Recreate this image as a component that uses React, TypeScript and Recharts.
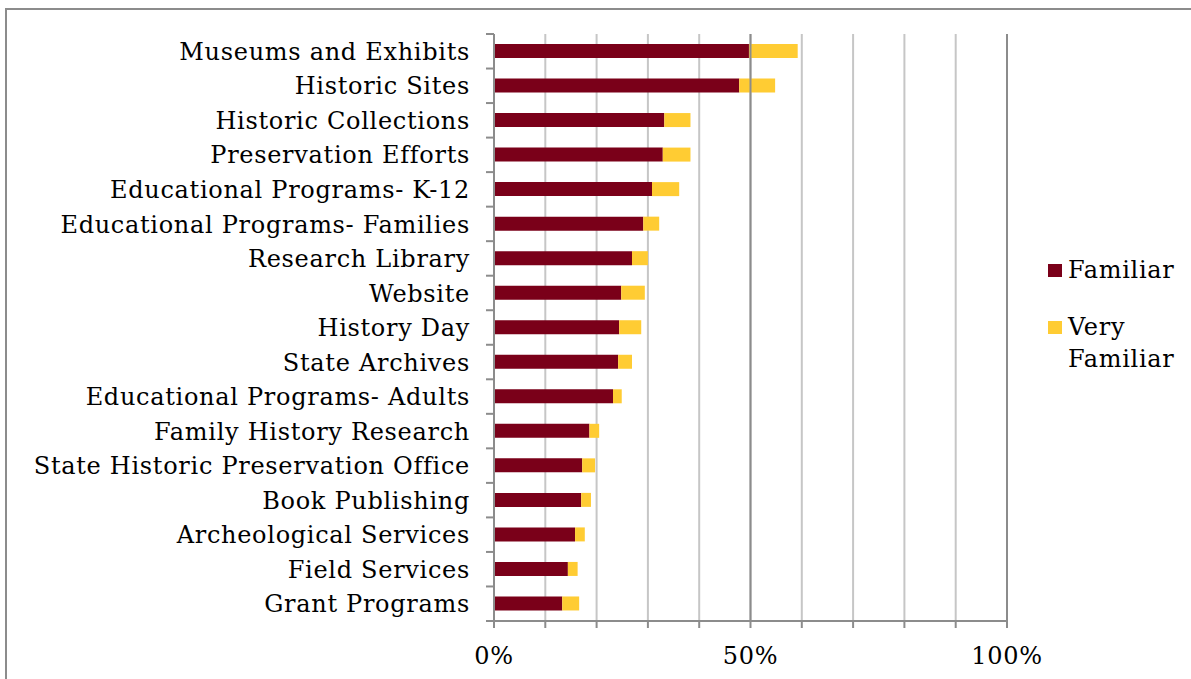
import { BarChart, Bar, XAxis, YAxis, CartesianGrid, Legend, ReferenceLine } from 'recharts';

// categories, top to bottom
const categories = [
  'Museums and Exhibits',
  'Historic Sites',
  'Historic Collections',
  'Preservation Efforts',
  'Educational Programs- K-12',
  'Educational Programs- Families',
  'Research Library',
  'Website',
  'History Day',
  'State Archives',
  'Educational Programs- Adults',
  'Family History Research',
  'State Historic Preservation Office',
  'Book Publishing',
  'Archeological Services',
  'Field Services',
  'Grant Programs',
];

// percent of respondents
const familiar = [49.7, 47.8, 33.2, 32.9, 30.8, 29.1, 26.9, 24.8, 24.4, 24.2, 23.2, 18.6, 17.2, 17.0, 15.8, 14.4, 13.3];
const veryFamiliar = [9.5, 7.0, 5.1, 5.4, 5.3, 3.1, 3.1, 4.6, 4.3, 2.7, 1.7, 1.9, 2.5, 1.9, 1.9, 1.9, 3.3];

const xTicks = [0, 10, 20, 30, 40, 50, 60, 70, 80, 90, 100];
const labeledTicks = [0, 50, 100];

const RED = '#7a0019';
const GOLD = '#ffcc33';
const AXIS = '#8c8c8c';
const FONT = '"DejaVu Serif", serif';
const FONT_SIZE = 24;
const SPACING = 0.7;

const W = 1191;
const H = 679;
const MARGIN = { top: 34, right: 184, bottom: 28, left: 0 };
const X_AXIS_H = 30;
const Y_AXIS_W = 494;
const STEP = (H - MARGIN.top - MARGIN.bottom - X_AXIS_H) / categories.length;

const data = categories.map((name, i) => ({
  name,
  familiar: familiar[i],
  veryFamiliar: veryFamiliar[i],
}));

// y tick: label plus the boundary marks between categories
const CategoryTick = ({ x, y, payload, index }: any) => (
  <g>
    <line x1={x} x2={x + 8} y1={y - STEP / 2} y2={y - STEP / 2} stroke={AXIS} strokeWidth={2} />
    {index === categories.length - 1 && (
      <line x1={x} x2={x + 8} y1={y + STEP / 2} y2={y + STEP / 2} stroke={AXIS} strokeWidth={2} />
    )}
    <text
      x={x - 16}
      y={y}
      dy="0.36em"
      textAnchor="end"
      fill="#000"
      fontSize={FONT_SIZE}
      fontFamily={FONT}
      letterSpacing={SPACING}
    >
      {payload.value}
    </text>
  </g>
);

const LegendBox = () => (
  <div style={{ fontFamily: FONT, fontSize: FONT_SIZE, letterSpacing: SPACING, color: '#000', lineHeight: '32px' }}>
    <div style={{ display: 'flex', alignItems: 'flex-start' }}>
      <span style={{ width: 14, height: 13, background: RED, marginTop: 10, marginRight: 6, flex: 'none' }} />
      <span>Familiar</span>
    </div>
    <div style={{ display: 'flex', alignItems: 'flex-start', marginTop: 25 }}>
      <span style={{ width: 14, height: 13, background: GOLD, marginTop: 10, marginRight: 6, flex: 'none' }} />
      <span>Very<br />Familiar</span>
    </div>
  </div>
);

export default function App() {
  return (
    <div style={{ position: 'absolute', left: 0, top: 0, width: W, height: H, background: '#fff' }}>
      <div
        style={{
          position: 'absolute',
          left: 5,
          top: 8,
          width: W - 5,
          height: H - 8,
          boxSizing: 'border-box',
          borderLeft: `2px solid ${AXIS}`,
          borderTop: `2px solid ${AXIS}`,
        }}
      />
      <div style={{ position: 'absolute', left: 0, top: 0 }}>
        <BarChart width={W} height={H} data={data} layout="vertical" margin={MARGIN} barSize={14}>
          <CartesianGrid horizontal={false} stroke="#c6c6c6" strokeWidth={2} />
          <ReferenceLine x={50} stroke={AXIS} strokeWidth={2} />
          <ReferenceLine x={100} stroke={AXIS} strokeWidth={2} />
          <XAxis
            type="number"
            domain={[0, 100]}
            ticks={xTicks}
            height={X_AXIS_H}
            axisLine={{ stroke: AXIS, strokeWidth: 2 }}
            tickLine={{ stroke: AXIS, strokeWidth: 2 }}
            tickSize={7}
            tickMargin={19}
            tick={{ fill: '#000', fontSize: FONT_SIZE, fontFamily: FONT, letterSpacing: SPACING }}
            tickFormatter={(v: number) => (labeledTicks.includes(v) ? `${v}%` : '')}
          />
          <YAxis
            type="category"
            dataKey="name"
            width={Y_AXIS_W}
            axisLine={{ stroke: AXIS, strokeWidth: 2 }}
            tickLine={false}
            tickSize={8}
            tickMargin={0}
            interval={0}
            tick={<CategoryTick />}
          />
          <Legend
            layout="horizontal"
            verticalAlign="middle"
            align="center"
            content={<LegendBox />}
            wrapperStyle={{ left: 1048, top: 254, width: 143, height: 130 }}
          />
          <Bar dataKey="familiar" name="Familiar" stackId="a" fill={RED} isAnimationActive={false} />
          <Bar dataKey="veryFamiliar" name="Very Familiar" stackId="a" fill={GOLD} isAnimationActive={false} />
        </BarChart>
      </div>
    </div>
  );
}
